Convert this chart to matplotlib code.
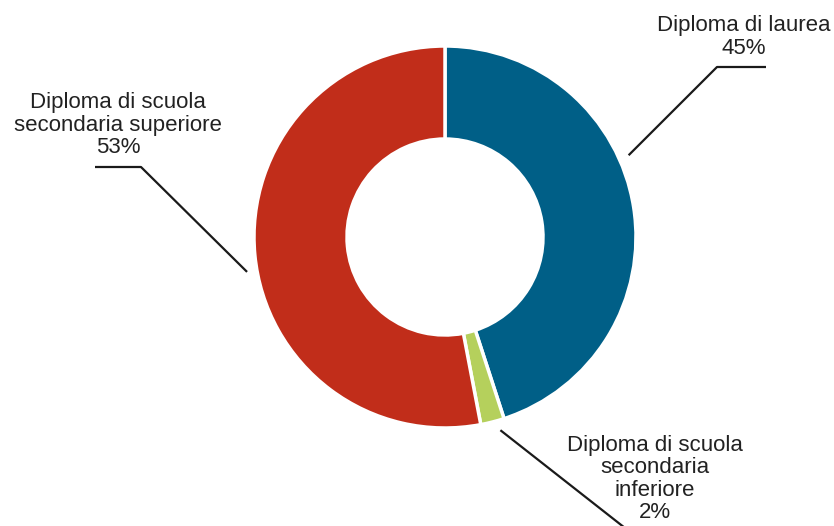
import numpy as np
import matplotlib.pyplot as plt

# education level shares
categories = ['Diploma di laurea', 'Diploma di scuola\nsecondaria\ninferiore',
              'Diploma di scuola\nsecondaria superiore']
shares = [45, 2, 53]
colors = ['#005f87', '#b5d05c', '#c12d1a']

W, H = 834, 526
cx, cy = 445, H - 237
r_out, r_in = 191, 98

fig = plt.figure(figsize=(W / 100, H / 100), dpi=100)
ax = fig.add_axes([0, 0, 1, 1])

ax.pie(shares, colors=colors, startangle=90, counterclock=False,
       center=(cx, cy), radius=r_out, frame=True,
       wedgeprops=dict(width=r_out - r_in, edgecolor='white', linewidth=2.5))
ax.set_xlim(0, W)
ax.set_ylim(0, H)
ax.set_aspect('equal')
ax.axis('off')

# leader lines: start angle on ring, elbow point, end of horizontal run
leaders = [
    (24, (717, H - 67), (766, H - 67)),
    (-74, (625, H - 528), None),
    (190, (141, H - 167), (95, H - 167)),
]
label_pos = [(744, H - 37), (655, H - 479), (118, H - 125)]

for cat, val, (ang, elbow, end), (tx, ty) in zip(categories, shares, leaders, label_pos):
    a = np.deg2rad(ang)
    r0 = 201
    xs = [cx + r0 * np.cos(a), elbow[0]]
    ys = [cy + r0 * np.sin(a), elbow[1]]
    if end is not None:
        xs.append(end[0])
        ys.append(end[1])
    ax.plot(xs, ys, color='#1a1a1a', lw=1.6, clip_on=False, solid_capstyle='butt')
    ax.text(tx, ty, f'{cat}\n{val}%', ha='center', va='center',
            fontsize=16, family='Liberation Sans', color='#222222',
            linespacing=1.08)

fig.savefig('out.png', dpi=100, facecolor='white')
